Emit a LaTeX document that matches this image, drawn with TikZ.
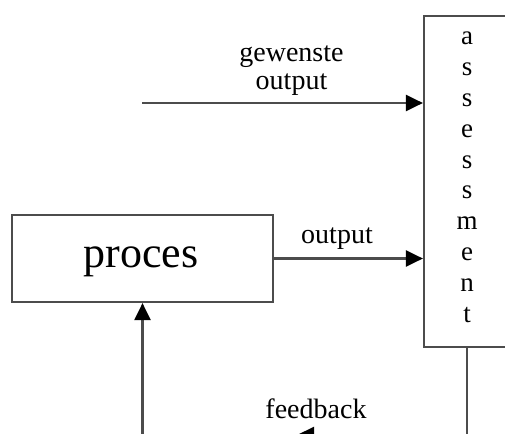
\documentclass[tikz,border=0pt]{standalone}
\usepackage{fontspec}
\setmainfont{Liberation Serif}
\usetikzlibrary{arrows.meta}
\begin{document}
\begin{tikzpicture}[x=1pt,y=-1pt,
  line/.style={draw=black!70,line width=2.2pt},
  arr/.style={line,-{Triangle[length=17pt,width=16pt,color=black]}},
  lbl/.style={font=\fontsize{28}{30}\selectfont,inner sep=0pt,anchor=base},
  box/.style={line,inner sep=0pt}]
\useasboundingbox (0,0) rectangle (505,433);
\clip (0,0) rectangle (505,433);
\node[box,minimum width=261pt,minimum height=87pt] (proces) at (142.5,258.5) {};
\node[inner sep=0pt,anchor=base,font=\fontsize{44}{50}\selectfont] (procestxt) at (141,267) {proces};
\node[box,minimum width=86pt,minimum height=331pt] (assess) at (467,181.5) {};
\node[inner sep=0pt,anchor=north,align=center,font=\fontsize{27}{30.8}\selectfont] (assesstxt) at (467,32) {a\\s\\s\\e\\s\\s\\m\\e\\n\\t};
\node[lbl] (gew) at (291.5,62) {gewenste};
\node[lbl] (gewout) at (291.5,90) {output};
\node[lbl] (outlbl) at (337,243) {output};
\node[lbl] (fblbl) at (316,418) {feedback};
\coordinate (gstart) at (142,103);
\coordinate (fbcorner) at (467,435);
\coordinate (fbtip) at (297,435);
\coordinate (inbottom) at (142.5,440);
\draw[arr] (gstart) -- (gstart -| assess.west);
\draw[arr] (proces.east) -- (proces.east -| assess.west);
\draw[arr] (inbottom) -- (proces.south);
\draw[line] (assess.south) -- (fbcorner);
\draw[arr] (fbcorner) -- (fbtip);
\end{tikzpicture}
\end{document}
